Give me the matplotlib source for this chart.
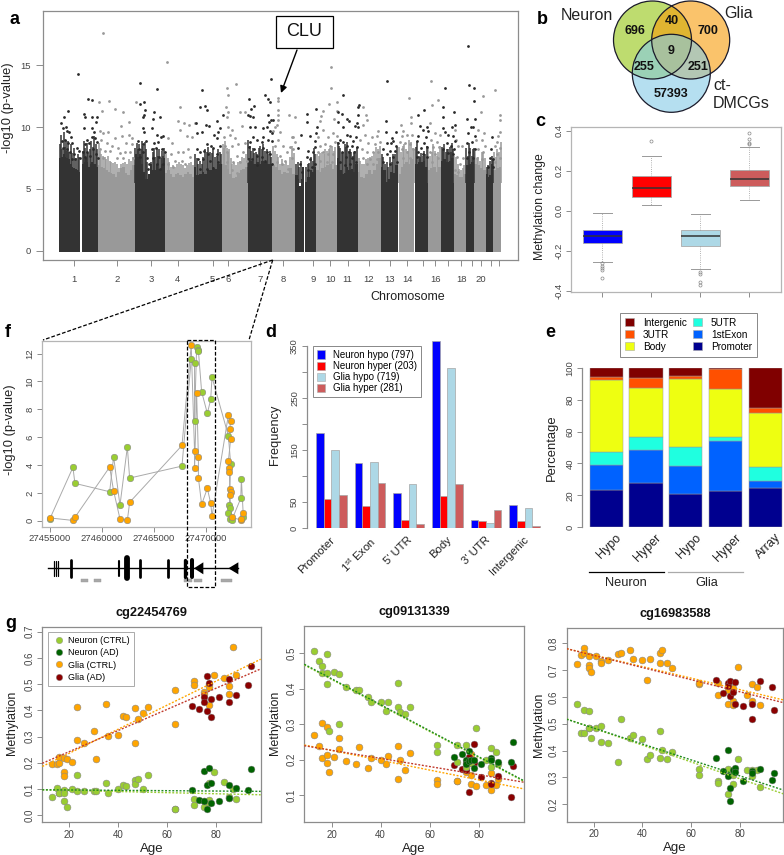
import numpy as np
import matplotlib
matplotlib.use("Agg")
from matplotlib import pyplot as plt
from matplotlib.patches import Circle, Rectangle, Patch, Polygon
from matplotlib.lines import Line2D

plt.rcParams["font.family"] = ["Liberation Sans", "DejaVu Sans"]
plt.rcParams["mathtext.default"] = "regular"

W, H = 784, 855
GREY_TXT = "#444444"
GREY_AX = "#8c8c8c"

# a: manhattan, positions are genome units
chr_spans = [(178, 241), (246, 293), (293, 404), (404, 495), (495, 582), (582, 665), (665, 743), (743, 817),
             (817, 884), (884, 912), (916, 948), (948, 1011), (1011, 1073), (1073, 1143), (1143, 1193),
             (1196, 1243), (1246, 1283), (1283, 1323), (1323, 1361), (1361, 1397), (1397, 1423), (1423, 1457),
             (1457, 1480), (1480, 1504)]
chr_dark = [1, 1, 0, 1, 0, 1, 0, 1, 0, 1, 1, 0, 1, 0, 1, 0, 1, 0, 1, 0, 1, 0, 1, 0]
chr_tops = [[7.5, 7.6, 7.8, 7.6, 7.5, 7.4, 7.0, 6.8, 6.7, 6.6, 6.5, 6.4],
            [7.0, 7.2, 7.5, 7.2, 6.8, 7.0, 7.2, 7.0, 7.0, 6.8],
            [6.9, 6.8, 6.7, 6.5, 6.4, 6.3, 6.2, 6.0, 6.4, 6.7, 6.8, 6.3, 6.1, 6.5, 6.9],
            [7.8, 7.6, 7.8, 7.0, 6.4, 5.8, 6.2, 7.0, 6.5, 6.5, 7.0, 6.6, 7.0, 7.5],
            [6.3, 6.5, 6.2, 6.0, 6.2, 6.3, 6.1, 6.0, 6.2, 6.4, 6.2, 6.0],
            [6.8, 6.1, 6.2, 6.4, 6.2, 6.5, 6.5, 6.8, 6.6, 7.0, 7.0],
            [7.0, 6.9, 6.6, 6.2, 5.9, 6.0, 6.3, 6.5, 6.6, 6.8],
            [7.5, 7.3, 7.0, 7.2, 7.0, 7.3, 7.2, 7.0, 7.0],
            [6.9, 6.8, 6.5, 6.2, 6.4, 6.3, 6.7, 6.2],
            [6.1, 6.1, 5.8, 5.2, 5.8, 6.8],
            [5.6, 6.0, 6.5, 6.4, 6.8],
            [6.5, 6.4, 6.7, 6.8, 6.9, 7.0, 6.6, 6.9],
            [7.5, 6.5, 6.2, 6.3, 6.8, 6.5, 6.6, 6.4, 7.0],
            [6.4, 6.0, 5.9, 6.2, 6.5, 6.2, 6.5, 7.0, 7.5],
            [6.8, 6.5, 5.6, 5.8, 6.4, 6.3, 6.9],
            [6.2, 6.8, 7.0, 7.2, 7.0, 7.5, 7.4],
            [7.0, 7.2, 7.2, 7.3, 6.8],
            [6.5, 6.7, 6.8, 6.4, 6.8],
            [7.3, 7.4, 7.2, 7.3, 7.5],
            [6.2, 6.1, 6.0, 6.0, 6.2],
            [6.9, 7.0, 7.2],
            [7.0, 6.9, 6.7, 6.5],
            [6.2, 6.0, 6.1, 7.0],
            [6.5, 6.7, 6.8]]

# thin runs of points standing on the solid part
dark_spikes = [(180, 8.6), (184, 9.4), (187, 8.2), (191, 9.6), (194, 8.4), (198, 9.0), (201, 8.1), (204, 8.9), (208, 8.0), (212, 8.6),
               (217, 7.9), (221, 8.3), (227, 7.5), (233, 7.8), (238, 7.6),
               (248, 8.1), (252, 8.9), (256, 8.3), (260, 8.7), (265, 7.9), (270, 8.2), (274, 8.9), (279, 8.4), (283, 9.3), (287, 8.6), (291, 8.2),
               (406, 8.3), (410, 8.7), (414, 8.2), (418, 8.6), (422, 8.2), (426, 8.9), (430, 8.5), (434, 8.8), (438, 8.2), (442, 7.2), (452, 7.2),
               (458, 8), (462, 8.3), (466, 7.6), (470, 8.3), (474, 7.7), (478, 8.2), (482, 7.5), (486, 8.1), (490, 7.7), (493, 8.3),
               (585, 7.8), (590, 7.5), (595, 7), (600, 7.3), (605, 7), (610, 7.6), (615, 8.2), (620, 8), (625, 8.4), (630, 8), (635, 7.9), (640, 8.2),
               (645, 7.6), (650, 7.7), (655, 8.2), (660, 8), (663, 7.8),
               (745, 9), (749, 8.5), (753, 8.1), (758, 8.3), (762, 7.9), (767, 8), (771, 7.8), (776, 8.3), (780, 8.5), (785, 8.2), (790, 8.6),
               (795, 8.1), (800, 8.2), (804, 7.8), (809, 8.1), (814, 7.6),
               (888, 7), (893, 7.2), (898, 6.8), (903, 7.3), (908, 6.7), (919, 6.8), (923, 7), (928, 7.1), (933, 7.6), (938, 7.3), (943, 8.3), (946, 7.8),
               (1013, 8.8), (1017, 8.5), (1021, 8.3), (1026, 7.9), (1030, 8), (1034, 8.6), (1038, 8.4), (1042, 8.8), (1046, 8.1), (1050, 8.2),
               (1054, 8), (1058, 7.7), (1062, 7.9), (1066, 8.1), (1070, 8.4),
               (1145, 7.8), (1150, 7.6), (1155, 7), (1160, 7.2), (1165, 6.8), (1170, 7.6), (1175, 7.2), (1180, 7.8), (1185, 7.8), (1190, 8.4),
               (1248, 8.4), (1252, 8.9), (1256, 7.7), (1260, 7.6), (1264, 7.9), (1268, 7.7), (1272, 8.1), (1276, 7.8), (1280, 8.5),
               (1325, 8.4), (1329, 8.2), (1333, 8.6), (1337, 8), (1341, 8.2), (1345, 8.2), (1349, 8.4), (1353, 8), (1357, 8.7), (1360, 8.2),
               (1399, 8.3), (1403, 7.7), (1407, 8.7), (1411, 8.3), (1415, 7.7), (1419, 8.2), (1422, 8.3),
               (1460, 6.8), (1465, 6.9), (1470, 7.3), (1475, 7.7), (1478, 7.4)]
grey_spikes = [(296, 8.7), (300, 8.1), (304, 7.8), (309, 7.7), (314, 7.6), (319, 7.4), (324, 7.7), (329, 7.3), (334, 7.2), (340, 7.1), (346, 7.2),
               (352, 7), (358, 6.7), (364, 7), (370, 7.1), (376, 7.2), (382, 7), (388, 7.4), (394, 7.3), (400, 7.6),
               (498, 7.8), (503, 7.5), (508, 7.2), (514, 6.8), (520, 6.9), (526, 6.8), (532, 7), (538, 7.2), (544, 7), (550, 6.9), (556, 6.7), (562, 6.9),
               (568, 7.1), (574, 7.2), (579, 6.9),
               (668, 8.6), (672, 8.3), (676, 8.9), (680, 8.3), (684, 8), (688, 8.2), (692, 7.5), (697, 7), (703, 7.1), (709, 6.9), (715, 7.2), (721, 7.3),
               (727, 7.6), (733, 7.5), (739, 7.8),
               (820, 8.5), (825, 8.1), (830, 7.8), (835, 7.6), (841, 7), (847, 7.4), (853, 7), (859, 7.2), (865, 6.9), (871, 7.6), (877, 8.5), (882, 7.9),
               (951, 7.8), (956, 7.7), (961, 7.9), (966, 8), (971, 7.8), (976, 8.2), (981, 8.1), (986, 8.2), (991, 8.3), (996, 8.5), (1001, 8.1), (1006, 8.4),
               (1076, 7.5), (1081, 7.3), (1087, 7), (1093, 7), (1099, 7.4), (1105, 7.5), (1111, 7.6), (1117, 7.7), (1123, 8), (1129, 8.4), (1135, 8.2), (1140, 8.5),
               (1198, 8.4), (1203, 8), (1208, 8.5), (1213, 8.6), (1218, 8.2), (1223, 8.1), (1228, 9), (1233, 8.8), (1238, 8.3), (1241, 8.2),
               (1285, 8.3), (1290, 7.7), (1295, 8), (1300, 8.6), (1305, 8.1), (1310, 7.7), (1315, 8), (1320, 8.5),
               (1363, 7.7), (1368, 7.6), (1373, 7), (1378, 6.6), (1383, 6.5), (1388, 6.7), (1393, 6.9),
               (1425, 8.1), (1430, 7.4), (1435, 7.6), (1440, 7.3), (1445, 8), (1450, 7.9), (1455, 7.5),
               (1482, 8), (1487, 7.6), (1492, 8.2), (1497, 8), (1502, 8.8)]

dark_pts = [(233, 14.3), (204, 11.3), (192, 10.8), (183, 10.3), (190, 9.9), (197, 10), (202, 9.7), (207, 9.6), (212, 9.2),
            (185, 8.9), (195, 9), (205, 8.7), (215, 8.7), (188, 8.3), (200, 8.2), (232, 8.3), (237, 8.1), (210, 8), (222, 7.8),
            (265, 12.3), (277, 12.2), (252, 11.1), (254, 10.8), (290, 10.8), (275, 10.8), (289, 10.4), (253, 9.9), (277, 9.9),
            (282, 9.6), (260, 9), (275, 9.2), (285, 9.1), (254, 8.6), (268, 8.7), (290, 8.8), (250, 8), (262, 8), (280, 8.2),
            (256, 7.6), (270, 7.7), (288, 7.8), (293, 7.5), (225, 7.4), (215, 7.4), (240, 7.5),
            (419, 13.6), (470, 13.1), (420, 11.9), (431, 12), (434, 11.4), (432, 11), (430, 10.8), (462, 11.2), (458, 10.7),
            (481, 10.8), (428, 9.9), (456, 9.9), (432, 9.6), (472, 9.4), (490, 9.3), (482, 9.2), (438, 8.9), (415, 8.9),
            (428, 8.6), (462, 8.7), (475, 8.8), (418, 8.2), (430, 8), (455, 8.2), (468, 8.3), (487, 8.2), (496, 8), (420, 7.6),
            (440, 7.5), (460, 7.5), (478, 7.6), (448, 7), (470, 7), (490, 7), (445, 6.6), (480, 6.6),
            (605, 13), (600, 11.6), (616, 11.7), (620, 11.4), (651, 10.5), (587, 10.3), (617, 10.2), (628, 10.1), (660, 9.9),
            (655, 9.6), (590, 9.5), (606, 9.6), (642, 9.4), (650, 9.1), (668, 11), (620, 8.6), (632, 8.5), (590, 8.2), (600, 8),
            (612, 8.1), (640, 8.3), (660, 8.5), (625, 7.8), (650, 7.8), (595, 7.4), (610, 7.4), (630, 7.3), (655, 7.2), (600, 6.6),
            (620, 6.6), (640, 6.7),
            (812, 13.9), (794, 12.6), (748, 12.3), (805, 12.3), (810, 12), (762, 11.7), (753, 11.5), (745, 11), (805, 11), (750, 10.9),
            (758, 10.8), (812, 10.6), (820, 10.6), (807, 10.4), (750, 10), (765, 10), (790, 9.9), (800, 10), (810, 9.7), (815, 9.5),
            (760, 9.2), (790, 9.2), (750, 8.8), (772, 9), (785, 8.8), (805, 9), (815, 8.9), (747, 8.4), (762, 8.2), (790, 8.3),
            (800, 8), (770, 7.7), (785, 7.6), (810, 7.8), (755, 7.4), (795, 7.3), (770, 6.9), (815, 7),
            (921, 11.1), (947, 11.5), (920, 10.4), (950, 10), (947, 9.5), (902, 9.4), (930, 9.3), (945, 8.9), (893, 8.3), (925, 8.1),
            (940, 8), (945, 8.4), (920, 7.6), (930, 7.4), (945, 7), (900, 7), (905, 6.4), (925, 6.5), (937, 6.8),
            (1030, 12.6), (1078, 11.8), (1073, 11.6), (1014, 11.2), (1026, 11.1), (1042, 10.7), (1047, 10.5), (1074, 11), (1072, 10.3),
            (1015, 10.4), (1030, 10), (1065, 10.1), (1075, 10), (1040, 9.4), (1050, 9.3), (1020, 9), (1068, 9.2), (1060, 8.9), (1030, 8.8),
            (1015, 8.7), (1040, 8.5), (1055, 8.5), (1072, 8.4), (1025, 8), (1048, 8), (1062, 8), (1038, 7.6), (1055, 7.5), (1020, 7.2),
            (1068, 7.2), (1050, 7), (1035, 6.9),
            (1160, 13.7), (1159, 10.5), (1158, 9.6), (1189, 9.6), (1175, 9.1), (1180, 8.9), (1160, 8.7), (1172, 8.7), (1188, 8.5),
            (1150, 8.2), (1170, 8.1), (1185, 8.1), (1160, 7.8), (1180, 7.6), (1150, 7.2), (1170, 7), (1190, 7.2),
            (1253, 11), (1272, 11.4), (1260, 10.1), (1270, 9.8), (1280, 10), (1285, 9.7), (1255, 9.3), (1278, 9.2), (1250, 8.9),
            (1272, 8.7), (1262, 8.3), (1280, 8.4), (1255, 8), (1270, 7.8), (1252, 7.6), (1280, 7.6),
            (1334, 13.2), (1330, 11.6), (1362, 11.2), (1328, 10.8), (1365, 10.2), (1330, 9.9), (1355, 10), (1335, 9.6), (1345, 9.4),
            (1358, 9.3), (1365, 8.9), (1340, 8.7), (1352, 8.5), (1330, 8.2), (1362, 8.2), (1345, 7.9), (1358, 7.8),
            (1405, 16.6), (1408, 13.4), (1421, 13.2), (1423, 12.1), (1401, 10.7), (1425, 10.7), (1412, 10), (1420, 10), (1405, 9.5),
            (1425, 9.3), (1400, 8.7), (1415, 8.8), (1425, 8.2), (1408, 8), (1400, 7.5), (1420, 7.5),
            (1475, 9.2), (1472, 8.2), (1470, 7.5), (1478, 7.4), (1465, 6.8), (1478, 6.8)]

grey_pts = [(310, 17.6), (328, 12.1), (298, 12), (305, 11.3), (344, 11.5), (370, 11.2), (362, 10.1), (387, 10.4), (300, 9.7), (308, 9.5),
            (325, 9.6), (345, 9.1), (388, 9.4), (367, 9.3), (395, 9.1), (302, 9), (320, 8.7), (335, 8.5), (355, 8.3), (378, 8.7), (395, 8.6),
            (300, 8.2), (315, 8.1), (330, 8.1), (360, 7.9), (375, 8), (390, 8), (350, 7.5), (310, 7.5), (370, 7.5), (400, 7.5), (407, 12),
            (502, 15.3), (541, 11.6), (533, 10.5), (553, 10.3), (568, 10.2), (541, 9.8), (585, 10.3), (503, 9.1), (515, 8.7), (560, 9.3),
            (575, 9.2), (535, 8), (550, 8), (565, 8.2), (512, 7.8), (525, 7.3), (545, 7.3), (570, 7.6), (505, 7), (520, 6.8), (555, 7),
            (680, 13.2), (708, 13.5), (684, 12.6), (678, 11.6), (684, 11.2), (720, 11.2), (680, 10.8), (685, 10), (695, 9.8), (673, 9.2),
            (690, 9.4), (705, 9.1), (725, 10.1), (735, 11.2), (715, 8.6), (675, 8.5), (695, 8.5), (735, 8.7), (680, 8), (710, 7.7), (730, 8),
            (700, 7.2), (720, 7.2), (740, 7.3), (680, 7.2), (695, 6.5), (712, 6.3),
            (833, 12.4), (833, 12.1), (833, 11.4), (833, 11), (866, 11), (885, 10.8), (833, 10.6), (830, 10.2), (825, 10), (840, 9.6), (820, 9.7),
            (875, 9.2), (880, 9.2), (835, 9), (850, 8.5), (885, 8.8), (825, 8.5), (860, 8), (870, 8.4), (880, 8.2), (840, 7.7), (855, 7.3),
            (875, 7.5), (830, 7.2), (845, 7), (865, 6.6),
            (993, 14.9), (993, 13.2), (1010, 12), (987, 11.9), (969, 11.3), (1010, 11.3), (964, 10.9), (1003, 10.7), (960, 10.5), (970, 9.8),
            (985, 9.2), (1000, 9.5), (955, 9.2), (1010, 9.3), (960, 8.5), (975, 8.6), (990, 8.5), (1005, 8.8), (955, 8), (970, 8), (985, 7.8),
            (1000, 7.8), (960, 7.3), (980, 7.2), (995, 7.2),
            (1090, 11.6), (1098, 11), (1100, 10.6), (1090, 10.2), (1133, 9.7), (1095, 9.4), (1115, 9.2), (1130, 9.3), (1080, 9), (1105, 8.7),
            (1125, 8.6), (1140, 8.8), (1085, 8.2), (1100, 8), (1120, 8), (1135, 8), (1090, 7.5), (1110, 7.4), (1130, 7.4), (1100, 7), (1120, 7),
            (1227, 12.4), (1234, 10.8), (1202, 10.2), (1208, 9.7), (1232, 10.3), (1205, 9.3), (1220, 9.4), (1235, 9.4), (1200, 8.8), (1215, 8.7),
            (1230, 8.6), (1205, 8.2), (1220, 8), (1238, 8.2), (1210, 7.5), (1230, 7.5),
            (1292, 13.7), (1313, 12.2), (1296, 11.8), (1290, 10.3), (1305, 9.5), (1320, 9.4), (1293, 9), (1310, 8.8), (1300, 8.4), (1318, 8.4),
            (1290, 8), (1305, 7.8), (1315, 7.5), (1295, 7.2),
            (1364, 9.8), (1368, 9), (1375, 8.5), (1385, 8.5), (1370, 7.6), (1390, 7.5), (1380, 7), (1375, 6.4), (1365, 6.5),
            (1449, 12.5), (1443, 11.2), (1435, 9.8), (1453, 9.5), (1428, 9), (1445, 9), (1455, 8.5), (1435, 8.2), (1450, 8), (1430, 7.5), (1445, 7.4),
            (1485, 13), (1501, 11), (1501, 10.6), (1501, 9.6), (1495, 9.3), (1490, 8.8), (1485, 8.5), (1500, 8.3), (1490, 7.8), (1500, 7.5), (1485, 7.2)]

chr_ticks = [222, 352, 454, 533, 638, 684, 780, 850, 940, 991, 1043, 1106, 1170, 1222, 1268, 1306, 1345, 1384, 1416, 1443, 1474, 1496]
chr_labels = ["1", "2", "3", "4", "5", "6", "7", "8", "9", "10", "11", "12", "13", "14", "", "16", "", "18", "", "20", "", ""]

# c: boxplot stats (whislo, q1, med, q3, whishi, fliers)
box_colors = ["#0000ff", "#ff0000", "#add8e6", "#cd5c5c"]
box_whislo = [-0.257, 0.027, -0.292, 0.052]
box_q1 = [-0.16, 0.067, -0.175, 0.123]
box_med = [-0.127, 0.113, -0.128, 0.16]
box_q3 = [-0.097, 0.175, -0.097, 0.203]
box_whishi = [-0.013, 0.273, -0.018, 0.318]
box_fliers = [[-0.263, -0.275, -0.285, -0.297, -0.338], [0.348], [-0.305, -0.317, -0.355, -0.372], [0.332, 0.34, 0.357, 0.39]]

# d: frequency bars
d_groups = ["Promoter", "1$^{st}$ Exon", "5' UTR", "Body", "3' UTR", "Intergenic"]
d_neuron_hypo = [183, 125, 67, 359, 16, 45]
d_neuron_hyper = [56, 42, 16, 62, 13, 13]
d_glia_hypo = [150, 126, 84, 308, 10, 38]
d_glia_hyper = [64, 87, 8, 85, 34, 3]
d_names = ["Neuron hypo (797)", "Neuron hyper (203)", "Glia hypo (719)", "Glia hyper (281)"]

# e: stacked percentages
e_groups = ["Hypo", "Hyper", "Hypo", "Hyper", "Array"]
e_promoter = [23.2, 27.8, 20.9, 22.5, 24.6]
e_exon1 = [15.8, 20.8, 17.5, 31.4, 4.4]
e_utr5 = [8.2, 8.0, 11.9, 2.7, 8.6]
e_body = [45.1, 30.7, 42.8, 30.0, 33.8]
e_utr3 = [1.9, 6.2, 1.5, 12.4, 3.6]
e_intergenic = [5.8, 6.5, 5.4, 1.0, 25.0]
e_colors = ["#00008f", "#0062ff", "#1fffe0", "#eeff11", "#ff5000", "#800000"]
e_names = ["Promoter", "1stExon", "5UTR", "Body", "3UTR", "Intergenic"]

# f: CLU region
f_green_pos = [27455000, 27457240, 27457430, 27460770, 27461150, 27461760, 27462470, 27462690, 27467720, 27468610, 27468930, 27468930,
               27469130, 27469290, 27469300, 27469610, 27470160, 27470480, 27470610, 27472180, 27472400, 27472280, 27472290, 27472180,
               27472290, 27472510, 27473370, 27473430, 27473620]
f_green_val = [0.1, 3.83, 2.68, 2.08, 4.6, 1.1, 5.29, 3.06, 3.92, 11.6, 11.3, 7.18, 12.44, 12.25, 12.2, 9.26, 7.7, 8.7, 10.3, 6.1, 4.1,
               1.1, 0.9, 0.55, 0.1, 0.05, 1.6, 3.0, 0.3]
f_orange_pos = [27455000, 27457240, 27457430, 27460770, 27461150, 27461760, 27462470, 27462690, 27467720, 27468610, 27468930, 27468930,
                27469130, 27469300, 27469300, 27469610, 27470160, 27470480, 27470610, 27472180, 27472400, 27472310, 27472400, 27472180,
                27472280, 27472280, 27472310, 27472400, 27472310, 27472510, 27473370, 27473430, 27473560]
f_orange_val = [0.2, 0.02, 0.24, 3.85, 2.13, 0.14, 0.02, 1.32, 5.4, 12.6, 4.97, 3.78, 9.14, 4.6, 3.08, 1.17, 2.32, 1.25, 0.33, 7.58, 7.18,
                6.55, 5.86, 4.26, 3.78, 3.5, 2.25, 2.03, 1.84, 0.24, 0.05, 0.14, 0.55]
f_ticks = [27455000, 27460000, 27465000, 27470000]

# gene model under f, base pairs
gene_start, gene_end = 27454871, 27473140
exon_pos = [27455416, 27455640, 27455800, 27457050, 27461634, 27462435, 27463717, 27466377, 27467980, 27468685]
exon_half = [7.3, 7.3, 7.3, 8.3, 7.3, 10, 8.3, 8.3, 8.3, 8.3]
exon_lw = [0.9, 0.9, 0.9, 2.0, 1.5, 4.2, 2.0, 2.0, 2.4, 2.9]
arrow_tips = [27468877, 27472184]
arrow_bases = [27469775, 27473140]
probe_spans = [(27458006, 27458711), (27459256, 27459929), (27467948, 27468653), (27468909, 27469614), (27471505, 27472498)]

# g: ages shared by all three probes
ages_ctrl = [13, 15, 16, 16, 18, 18, 18, 19, 21, 23, 23, 26, 30, 31, 35, 36, 40, 42, 43, 47, 47, 48, 50, 52, 63, 63, 71, 71, 75, 75,
             77, 77, 77, 79, 83, 85, 85, 87, 88]
ages_ad = [70, 73, 75, 75, 76, 76, 77, 78, 78, 81, 85, 85, 88, 93, 94]

g1_neuron_ctrl = [.069, .104, .085, .085, .097, .084, .056, .033, .1, .152, .093, .093, .091, .091, .122, .084, .1, .116, .113, .135,
                  .119, .14, .1, .154, .023, .023, .061, .038, .033, .056, .122, .058, .045, .166, .128, .066, .07, .1, .061]
g1_glia_ctrl = [.196, .196, .221, .2, .217, .164, .15, .213, .203, .414, .287, .274, .32, .216, .426, .304, .306, .379, .376, .408,
                .277, .368, .391, .413, .478, .349, .51, .498, .471, .462, .5, .49, .422, .534, .523, .493, .462, .643, .536]
g1_neuron_ad = [.095, .058, .168, .056, .023, .114, .18, .122, .048, .056, .117, .067, .105, .095, .178]
g1_glia_ad = [.417, .407, .452, .433, .531, .398, .503, .443, .374, .449, .518, .432, .459, .497, .568]

g2_neuron_ctrl = [.5075, .477, .464, .444, .498, .444, .412, .281, .447, .442, .301, .406, .396, .396, .376, .363, .362, .338, .362, .417,
                  .348, .334, .328, .347, .241, .22, .241, .194, .242, .18, .2, .195, .19, .289, .2, .233, .178, .222, .186]
g2_glia_ctrl = [.268, .237, .304, .205, .293, .212, .191, .166, .207, .262, .23, .196, .186, .236, .175, .204, .199, .187, .21, .145,
                .239, .199, .17, .218, .142, .132, .139, .138, .175, .164, .215, .155, .131, .125, .128, .161, .114, .128, .145]
g2_neuron_ad = [.207, .215, .198, .188, .224, .197, .199, .199, .177, .188, .204, .199, .193, .192, .249]
g2_glia_ad = [.184, .172, .171, .189, .108, .206, .189, .244, .191, .152, .133, .131, .153, .094, .182]

g3_neuron_ctrl = [.575, .465, .55, .465, .548, .484, .484, .446, .486, .491, .431, .429, .359, .517, .446, .46, .443, .368, .383, .472,
                  .371, .402, .37, .396, .333, .308, .288, .281, .333, .24, .276, .309, .315, .368, .327, .306, .328, .328, .263]
g3_glia_ctrl = [.722, .757, .781, .763, .753, .72, .709, .694, .754, .735, .725, .737, .761, .765, .776, .743, .739, .663, .742, .763,
                .725, .775, .727, .707, .648, .652, .651, .607, .575, .626, .632, .585, .57, .71, .607, .65, .586, .637, .57]
g3_neuron_ad = [.374, .323, .402, .306, .262, .211, .328, .337, .322, .286, .323, .318, .33, .289, .317]
g3_glia_ad = [.663, .616, .651, .641, .661, .604, .619, .656, .573, .568, .573, .519, .66, .637, .55]

# fitted line values at the left and right edge of each panel
g1_fits = {"neuron_ctrl": (.097, .078), "neuron_ad": (.097, .091), "glia_ctrl": (.186, .595), "glia_ad": (.198, .558)}
g2_fits = {"neuron_ctrl": (.467, .138), "neuron_ad": (.469, .14), "glia_ctrl": (.241, .117), "glia_ad": (.239, .136)}
g3_fits = {"neuron_ctrl": (.518, .239), "neuron_ad": (.517, .253), "glia_ctrl": (.78, .589), "glia_ad": (.78, .579)}

GREEN, DGREEN, ORANGE, DRED = "#9acd32", "#006400", "#ffa500", "#8b0000"


def ax_px(left, top, right, bottom, **kw):
    return fig.add_axes([left / W, 1 - bottom / H, (right - left) / W, (bottom - top) / H], **kw)


def r_style(ax, ylabel=None, rotate=True, size=6.8):
    for s in ax.spines.values():
        s.set_color(GREY_AX)
        s.set_linewidth(0.9)
    ax.tick_params(colors=GREY_AX, labelcolor=GREY_TXT, labelsize=size, length=3.5, width=0.7, pad=2)
    if rotate:
        for t in ax.get_yticklabels():
            t.set_rotation(90)
            t.set_va("center")


fig = plt.figure(figsize=(W / 100, H / 100), dpi=100)

# ---- panel a
ax_a = ax_px(43.3, 11, 518.3, 260)
for (x0, x1), dark, tops in zip(chr_spans, chr_dark, chr_tops):
    xs = np.linspace(x0, x1, len(tops) + 1)
    ys = tops + [tops[-1]]
    ax_a.fill_between(xs, -0.08, ys, step="post", color="#333333" if dark else "#999999", lw=0, zorder=2)
gx, gy = zip(*grey_spikes)
dx, dy = zip(*dark_spikes)
ax_a.vlines(gx, 5.5, gy, color="#999999", lw=1.1, zorder=2)
ax_a.vlines(dx, 5.5, dy, color="#333333", lw=1.1, zorder=2)
ax_a.scatter(*zip(*grey_pts), s=4, color="#999999", lw=0, zorder=3)
ax_a.scatter(*zip(*dark_pts), s=4, color="#2a2a2a", lw=0, zorder=3)
ax_a.set_xlim(130, 1555)
ax_a.set_ylim(-0.75, 19.4)
ax_a.set_yticks([0, 5, 10, 15])
ax_a.set_xticks(chr_ticks)
ax_a.set_xticklabels(chr_labels)
r_style(ax_a, rotate=False)
ax_a.tick_params(axis="x", length=4, pad=7)
ax_a.tick_params(axis="y", length=5, pad=4)

# ---- panel c
ax_c = ax_px(571, 127, 780.7, 292)
stats = []
for i in range(4):
    stats.append(dict(whislo=box_whislo[i], q1=box_q1[i], med=box_med[i], q3=box_q3[i], whishi=box_whishi[i], fliers=box_fliers[i]))
bp = ax_c.bxp(stats, positions=[1, 2, 3, 4], widths=0.8, patch_artist=True, manage_ticks=False,
              whiskerprops=dict(color="#999999", lw=0.6, ls=":"), capprops=dict(color="#999999", lw=0.7),
              medianprops=dict(color="#333333", lw=1.1),
              flierprops=dict(marker="o", markersize=2.2, mfc="none", mec="#888888", mew=0.5))
for patch, col in zip(bp["boxes"], box_colors):
    patch.set_facecolor(col)
    patch.set_edgecolor("#aaaaaa")
    patch.set_linewidth(0.6)
ax_c.set_xlim(0.36, 4.64)
ax_c.set_ylim(-0.407, 0.418)
ax_c.set_xticks([1, 2, 3, 4])
ax_c.set_xticklabels([])
ax_c.set_yticks([-0.4, -0.2, 0.0, 0.2, 0.4])
ax_c.set_yticklabels(["-0.4", "-0.2", "0.0", "0.2", "0.4"])
r_style(ax_c)
for s in ax_c.spines.values():
    s.set_color("#b5b5b5")

# ---- panel f
ax_f = ax_px(42.3, 340.7, 250.7, 526.7)
ax_f.plot(f_green_pos, f_green_val, color="#aaaaaa", lw=0.7, zorder=1)
ax_f.plot(f_orange_pos, f_orange_val, color="#aaaaaa", lw=0.7, zorder=1)
ax_f.scatter(f_green_pos, f_green_val, s=22, color=GREEN, edgecolor="#888888", lw=0.4, zorder=2)
ax_f.scatter(f_orange_pos, f_orange_val, s=22, color=ORANGE, edgecolor="#888888", lw=0.4, zorder=3)
ax_f.set_xlim(27454295, 27474327)
ax_f.set_ylim(-0.43, 12.92)
ax_f.set_xticks(f_ticks)
ax_f.set_xticklabels([str(t) for t in f_ticks])
ax_f.set_yticks([0, 2, 4, 6, 8, 10, 12])
r_style(ax_f)
for s in ax_f.spines.values():
    s.set_color("#b5b5b5")

# gene model, same x scale as f
ax_gene = ax_px(42.3, 548.3, 250.7, 588.3)
ax_gene.set_xlim(27454295, 27474327)
ax_gene.set_ylim(20, -20)
ax_gene.axis("off")
ax_gene.plot([gene_start, gene_end], [0, 0], color="black", lw=1.0)
for x, h, lw in zip(exon_pos, exon_half, exon_lw):
    ax_gene.plot([x, x], [-h, h], color="black", lw=lw, solid_capstyle="round")
for tip, base in zip(arrow_tips, arrow_bases):
    ax_gene.add_patch(Polygon([(tip, 0), (base, -6), (base, 6)], color="black", lw=0))
for a, b in probe_spans:
    ax_gene.add_patch(Rectangle((a, 10.7), b - a, 3.2, facecolor="#a8a8a8", edgecolor="#999999", lw=0.3))

# ---- panel d
ax_d = ax_px(306.7, 335.3, 545, 528)
d_series = [d_neuron_hypo, d_neuron_hyper, d_glia_hypo, d_glia_hyper]
bw = 0.198
for k, vals in enumerate(d_series):
    ax_d.bar(np.arange(6) + (k - 1.5) * bw, vals, width=bw, color=box_colors[k], edgecolor="#a5a5a5", lw=0.5)
ax_d.set_xlim(-0.637, 5.525)
ax_d.set_ylim(0, 370)
ax_d.set_xticks([])
ax_d.set_yticks(np.arange(0, 351, 50))
ax_d.set_yticklabels(["0", "50", "", "150", "", "250", "", "350"])
r_style(ax_d)
for s in ["top", "right", "bottom"]:
    ax_d.spines[s].set_visible(False)
ax_d.spines["left"].set_bounds(0, 350)
ax_d.patch.set_alpha(0)
for i, name in enumerate(d_groups):
    ax_d.annotate(name, xy=(i, 0), xytext=(-1, -5), textcoords="offset points", rotation=45, rotation_mode="anchor",
                  ha="right", va="top", fontsize=8.2, color="#222222", annotation_clip=False)

# ---- panel e
ax_e = ax_px(582.3, 367.7, 784, 527.3)
e_series = [e_promoter, e_exon1, e_utr5, e_body, e_utr3, e_intergenic]
bottom = np.zeros(5)
for vals, col in zip(e_series, e_colors):
    ax_e.bar(np.arange(5), vals, bottom=bottom, width=0.83, color=col, edgecolor="#999999", lw=0.35)
    bottom = bottom + np.array(vals)
ax_e.set_xlim(-0.6, 4.464)
ax_e.set_ylim(0, 100)
ax_e.set_xticks([])
ax_e.set_yticks([0, 20, 40, 60, 80, 100])
r_style(ax_e)
for s in ["top", "right", "bottom"]:
    ax_e.spines[s].set_visible(False)
ax_e.patch.set_alpha(0)
for i, name in enumerate(e_groups):
    ax_e.annotate(name, xy=(i, 0), xytext=(6.5, -3), textcoords="offset points", rotation=45, rotation_mode="anchor",
                  ha="right", va="top", fontsize=9, color="#222222", annotation_clip=False)


# ---- panel g
def age_panel(box, xlim, ylim, yticks, neuron_ctrl, neuron_ad, glia_ctrl, glia_ad, fits, title):
    ax = ax_px(*box)
    ax.scatter(ages_ctrl, glia_ctrl, s=24, color=ORANGE, edgecolor="#888888", lw=0.4, zorder=2)
    ax.scatter(ages_ad, glia_ad, s=24, color=DRED, edgecolor="#777777", lw=0.3, zorder=3)
    ax.scatter(ages_ctrl, neuron_ctrl, s=24, color=GREEN, edgecolor="#888888", lw=0.4, zorder=4)
    ax.scatter(ages_ad, neuron_ad, s=24, color=DGREEN, edgecolor="#777777", lw=0.3, zorder=5)
    for key, col in [("glia_ctrl", ORANGE), ("glia_ad", "#c0392b"), ("neuron_ctrl", GREEN), ("neuron_ad", "#1e8a1e")]:
        ax.plot(xlim, fits[key], color=col, lw=1.0, ls=(0, (1.4, 1.2)), zorder=6)
    ax.set_xlim(xlim)
    ax.set_ylim(ylim)
    ax.set_xticks([20, 40, 60, 80])
    ax.set_yticks(yticks)
    ax.set_yticklabels(["%.1f" % v for v in yticks])
    r_style(ax, size=7)
    ax.set_xlabel("Age", fontsize=9.5, labelpad=2, color="#222222")
    ax.set_title(title, fontsize=9.2, fontweight="bold", pad=8, color="#111111")
    return ax


ax_g1 = age_panel((42.3, 626.7, 260.7, 822.3), (9.0, 98.1), (-0.027, 0.719), [0, .1, .2, .3, .4, .5, .6, .7],
                  g1_neuron_ctrl, g1_neuron_ad, g1_glia_ctrl, g1_glia_ad, g1_fits, "cg22454769")
ax_g2 = age_panel((304.3, 626, 524, 822.3), (8.84, 98.5), (0.0228, 0.577), [.1, .2, .3, .4, .5],
                  g2_neuron_ctrl, g2_neuron_ad, g2_glia_ctrl, g2_glia_ad, g2_fits, "cg09131339")
ax_g3 = age_panel((566.7, 628.3, 783.3, 821.7), (8.94, 97.7), (0.135, 0.856), [.2, .3, .4, .5, .6, .7, .8],
                  g3_neuron_ctrl, g3_neuron_ad, g3_glia_ctrl, g3_glia_ad, g3_fits, "cg16983588")

# ---- overlay in pixel coordinates for venn, labels, connectors
ov = fig.add_axes([0, 0, 1, 1], zorder=20)
ov.set_xlim(0, W)
ov.set_ylim(H, 0)
ov.axis("off")

venn = [((652.5, 40), (148 / 255, 198 / 255, 15 / 255)), ((690.7, 40), (248 / 255, 155 / 255, 8 / 255)), ((671.3, 73.3), (132 / 255, 202 / 255, 230 / 255))]
for centre, col in venn:
    ov.add_patch(Circle(centre, 39, facecolor=col, alpha=0.6, lw=0))
for centre, col in venn:
    ov.add_patch(Circle(centre, 39, facecolor="none", edgecolor="#1a1a2a", lw=0.9))
venn_nums = [("696", 635, 31), ("40", 671.5, 21), ("700", 708, 31), ("9", 671.5, 51), ("255", 644, 67), ("251", 698, 67), ("57393", 671.5, 94)]
for s, x, y in venn_nums:
    ov.text(x, y, s, fontsize=9, fontweight="bold", ha="center", va="center", color="#111111")
ov.text(587, 15, "Neuron", fontsize=11.5, ha="center", va="center", color="#222222")
ov.text(739, 14, "Glia", fontsize=11.5, ha="center", va="center", color="#222222")
ov.text(713, 85, "ct-", fontsize=11.5, ha="left", va="center", color="#222222")
ov.text(713, 103, "DMCGs", fontsize=11.5, ha="left", va="center", color="#222222")

for s, x, y in [("a", 15, 20), ("b", 542, 20), ("c", 540, 122), ("d", 271, 332), ("e", 550, 332), ("f", 8, 332), ("g", 11, 623)]:
    ov.text(x, y, s, fontsize=13, fontweight="bold", ha="center", va="center", color="black")

# axis titles
ov.text(8, 108, "-log10 (p-value)", fontsize=9.3, rotation=90, ha="center", va="center", color="#222222")
ov.text(408, 297, "Chromosome", fontsize=9, ha="center", va="center", color="#222222")
ov.text(540, 207, "Methylation change", fontsize=8.8, rotation=90, ha="center", va="center", color="#222222")
ov.text(10, 430, "-log10 (p-value)", fontsize=9.3, rotation=90, ha="center", va="center", color="#222222")
ov.text(275, 435, "Frequency", fontsize=9.2, rotation=90, ha="center", va="center", color="#222222")
ov.text(551.7, 448, "Percentage", fontsize=9.4, rotation=90, ha="center", va="center", color="#222222")
ov.text(12, 723, "Methylation", fontsize=9, rotation=90, ha="center", va="center", color="#222222")
ov.text(275, 723, "Methylation", fontsize=9, rotation=90, ha="center", va="center", color="#222222")
ov.text(539, 725, "Methylation", fontsize=9, rotation=90, ha="center", va="center", color="#222222")

# CLU callout
ov.add_patch(Rectangle((276, 16), 57, 32, facecolor="white", edgecolor="black", lw=0.9))
ov.text(304.5, 32, "CLU", fontsize=13, ha="center", va="center", color="#111111")
ov.annotate("", xy=(281, 93), xytext=(297, 50), arrowprops=dict(arrowstyle="-|>", color="black", lw=1.0, shrinkA=0, shrinkB=0))

# zoom connectors
ov.add_line(Line2D([272.7, 43], [260, 340], color="black", lw=0.9, ls=(0, (3, 1.5))))
ov.add_line(Line2D([272.7, 249], [260, 340], color="black", lw=0.9, ls=(0, (3, 1.5))))
ov.add_patch(Rectangle((186.7, 340), 28.6, 246.7, facecolor="none", edgecolor="black", lw=0.9, ls=(0, (3, 1.5))))

# group lines under e
ov.add_line(Line2D([589, 664], [571.7, 571.7], color="black", lw=0.9))
ov.add_line(Line2D([668, 743], [571.7, 571.7], color="#aaaaaa", lw=0.9))
ov.text(626, 583, "Neuron", fontsize=9.2, ha="center", va="center", color="#222222")
ov.text(706.7, 583, "Glia", fontsize=9.2, ha="center", va="center", color="#222222")

# legends
d_handles = [Patch(facecolor=c, edgecolor="#aaaaaa", lw=0.4) for c in box_colors]
leg_d = ov.legend(d_handles, d_names, loc="upper left", bbox_to_anchor=(312.7, 346), bbox_transform=ov.transData, borderaxespad=0,
                  fontsize=7, frameon=True, fancybox=False, edgecolor="#888888", framealpha=1, labelspacing=0.12,
                  handlelength=0.9, handleheight=0.9, handletextpad=0.8, borderpad=0.4)
leg_d.get_frame().set_linewidth(0.7)
ov.add_artist(leg_d)
e_order = [5, 4, 3, 2, 1, 0]
e_handles = [Patch(facecolor=e_colors[i], edgecolor="#aaaaaa", lw=0.4) for i in e_order]
leg_e = ov.legend(e_handles, [e_names[i] for i in e_order], ncol=2, loc="upper left", bbox_to_anchor=(620, 312.7),
                  bbox_transform=ov.transData, borderaxespad=0, fontsize=7.2, frameon=True, fancybox=False, edgecolor="#888888",
                  framealpha=1, labelspacing=0.2, handlelength=0.9, handleheight=0.9, handletextpad=0.9, borderpad=0.5, columnspacing=0.6)
leg_e.get_frame().set_linewidth(0.7)
g_handles = [Line2D([], [], marker="o", ls="", ms=4.6, mfc=c, mec="#888888", mew=0.3) for c in [GREEN, DGREEN, ORANGE, DRED]]
g_names = ["Neuron (CTRL)", "Neuron (AD)", "Glia (CTRL)", "Glia (AD)"]
leg_g = ax_g1.legend(g_handles, g_names, loc="upper left", bbox_to_anchor=(48.3, 631.7), bbox_transform=ov.transData, borderaxespad=0,
                     fontsize=6.5, frameon=True, fancybox=False, edgecolor="#aaaaaa", framealpha=1, labelspacing=0.35,
                     handlelength=1.4, handletextpad=0.3, borderpad=0.5)
leg_g.get_frame().set_linewidth(0.7)
leg_g.set_zorder(10)

fig.savefig("out.png", dpi=100)
